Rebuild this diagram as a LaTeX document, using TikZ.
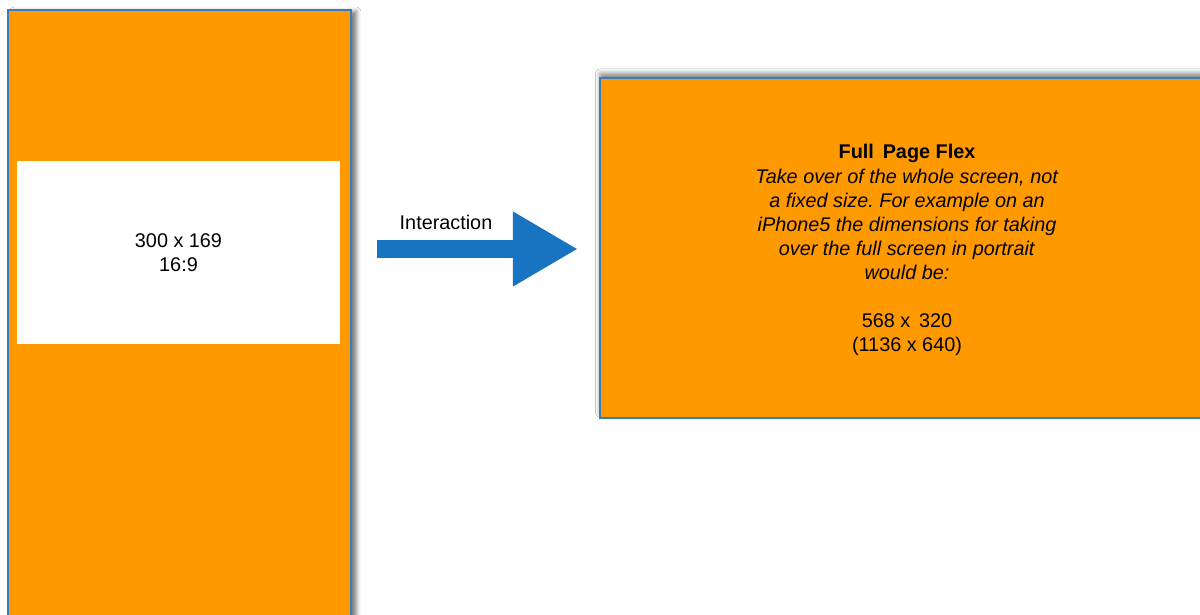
\documentclass[tikz,border=0pt]{standalone}
\usepackage{fontspec}
\setmainfont{Liberation Sans}
\usetikzlibrary{arrows.meta,shadows.blur}
\definecolor{flexorange}{RGB}{255,153,0}
\definecolor{edgeblue}{RGB}{58,125,190}
\definecolor{arrowblue}{RGB}{24,115,192}
\tikzset{
  screen/.style={draw=edgeblue, line width=1pt, fill=flexorange, inner sep=0pt},
  banner/.style={fill=white, inner sep=0pt, align=center},
  flow/.style={draw=arrowblue, line width=0.45cm, -{Triangle[length=1.625cm,width=1.75cm]}},
  txt/.style={font=\fontsize{14.1}{17.1}\selectfont, align=center}
}
\frenchspacing
\begin{document}
\begin{tikzpicture}[x=0.025cm,y=-0.025cm]
  \clip (0,0) rectangle (1200,614);
  \fill[white] (0,0) rectangle (1200,614);
          \node (phone) [screen, minimum width=8.575cm, minimum height=15.5cm,
            blur shadow={shadow xshift=4pt, shadow yshift=-1pt, shadow blur radius=3pt, shadow opacity=50}] at (179.5,320) {};
          \node (video) [banner, txt, minimum width=8.075cm, minimum height=4.575cm] at (178.5,252.5) {300 x 169\\16:9};
          \node (flex) [screen, minimum width=15.35cm, minimum height=8.5cm,
            blur shadow={shadow xshift=0pt, shadow yshift=3.5pt, shadow blur radius=3pt, shadow opacity=45}] at (907,248) {};
          \node (about) [txt] at (907,250)
            {\textbf{Full\, Page Flex}\\
             \textit{Take over of the whole screen, not}\\
             \textit{a fixed size. For example on an}\\
             \textit{iPhone5 the dimensions for taking}\\
             \textit{over the full screen in portrait}\\
             \textit{would be:}\\[17.1pt]
             568 x\, 320\\
             (1136 x 640)};

          \coordinate (from) at (377,249);
          \coordinate (to) at (578,249);
          \draw [flow] (from) -- (to);
          \node (action) [txt] at (446,222) {Interaction};
  \end{tikzpicture}
\end{document}
